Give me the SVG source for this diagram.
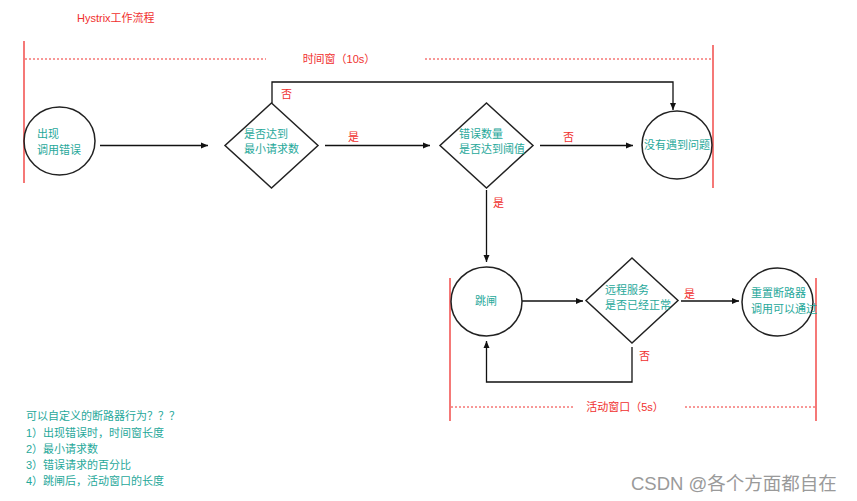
<svg xmlns="http://www.w3.org/2000/svg" width="857" height="501" viewBox="0 0 857 501">
<style>
text{font-family:"Liberation Sans","Noto Sans CJK SC",sans-serif;font-size:11px}
.t{fill:#1fa89a}
.r{fill:#f0302e}
.shape{fill:none;stroke:#222;stroke-width:1.5}
.conn{fill:none;stroke:#111;stroke-width:1.3}
.red{stroke:#f0302e;stroke-width:1.3;fill:none}
.dot{stroke:#f0302e;stroke-width:1;stroke-dasharray:2 2;fill:none}
</style>
<defs>
<marker id="ah" markerWidth="8" markerHeight="8" refX="7" refY="4" orient="auto" markerUnits="userSpaceOnUse">
<path d="M0,1 L7,4 L0,7 Z" fill="#111"/>
</marker>
</defs>
<rect width="857" height="501" fill="#fff"/>
<text class="r" x="77" y="22">Hystrix工作流程</text>
<g id="window10s">
<line class="red" x1="24" y1="41" x2="24" y2="183"/>
<line class="red" x1="713" y1="45" x2="713" y2="188"/>
<line class="dot" x1="25" y1="59" x2="266" y2="59"/>
<line class="dot" x1="425" y1="59" x2="712" y2="59"/>
<text class="r" x="339" y="63" text-anchor="middle">时间窗（10s）</text>
</g>
<g id="window5s">
<line class="red" x1="450" y1="278" x2="450" y2="421"/>
<line class="red" x1="816" y1="278" x2="816" y2="421"/>
<line class="dot" x1="451" y1="407" x2="573" y2="407"/>
<line class="dot" x1="685" y1="407" x2="815" y2="407"/>
<text class="r" x="625" y="411" text-anchor="middle">活动窗口（5s）</text>
</g>
<g id="connectors">
<line class="conn" x1="100" y1="145.5" x2="208" y2="145.5" marker-end="url(#ah)"/>
<polyline class="conn" points="272,103 272,82 673,82 673,110" marker-end="url(#ah)"/>
<line class="conn" x1="325" y1="145.5" x2="430" y2="145.5" marker-end="url(#ah)"/>
<line class="conn" x1="540" y1="145.5" x2="633" y2="145.5" marker-end="url(#ah)"/>
<line class="conn" x1="486.5" y1="190" x2="486.5" y2="262" marker-end="url(#ah)"/>
<line class="conn" x1="522" y1="301" x2="583" y2="301" marker-end="url(#ah)"/>
<line class="conn" x1="681" y1="301" x2="739" y2="301" marker-end="url(#ah)"/>
<polyline class="conn" points="632,347 632,382 486.5,382 486.5,341" marker-end="url(#ah)"/>
<text class="r" x="281" y="98">否</text>
<text class="r" x="348" y="141">是</text>
<text class="r" x="563" y="141">否</text>
<text class="r" x="493" y="207">是</text>
<text class="r" x="684" y="298">是</text>
<text class="r" x="639" y="360">否</text>
</g>
<g id="n1">
<ellipse class="shape" cx="59.5" cy="141" rx="35.5" ry="34"/>
<text class="t" x="37" y="138">出现</text>
<text class="t" x="37" y="154">调用错误</text>
</g>
<g id="d1">
<polygon class="shape" points="271.5,103 318,145.5 271.5,188 225,145.5"/>
<text class="t" x="244" y="138">是否达到</text>
<text class="t" x="244" y="153">最小请求数</text>
</g>
<g id="d2">
<polygon class="shape" points="486.5,103 533,145.5 486.5,188 440,145.5"/>
<text class="t" x="459" y="138">错误数量</text>
<text class="t" x="459" y="153">是否达到阈值</text>
</g>
<g id="n2">
<ellipse class="shape" cx="677" cy="145" rx="35" ry="34"/>
<text class="t" x="644" y="149">没有遇到问题</text>
</g>
<g id="n3">
<ellipse class="shape" cx="486.5" cy="301.5" rx="35.5" ry="34.5"/>
<text class="t" x="475" y="305">跳闸</text>
</g>
<g id="d3">
<polygon class="shape" points="632,258 678,300.5 632,343 586,300.5"/>
<text class="t" x="605" y="294">远程服务</text>
<text class="t" x="605" y="309">是否已经正常</text>
</g>
<g id="n4">
<ellipse class="shape" cx="777.5" cy="302" rx="35.5" ry="34"/>
<text class="t" x="751" y="297">重置断路器</text>
<text class="t" x="751" y="313">调用可以通过</text>
</g>
<g id="notes">
<text class="t" x="26" y="420">可以自定义的断路器行为？？？</text>
<text class="t" x="26" y="437">1）出现错误时，时间窗长度</text>
<text class="t" x="26" y="453">2）最小请求数</text>
<text class="t" x="26" y="469">3）错误请求的百分比</text>
<text class="t" x="26" y="485">4）跳闸后，活动窗口的长度</text>
</g>
<text x="631" y="490" style="font-size:18.5px;fill:#9a9a9a">CSDN @各个方面都自在</text>
</svg>
